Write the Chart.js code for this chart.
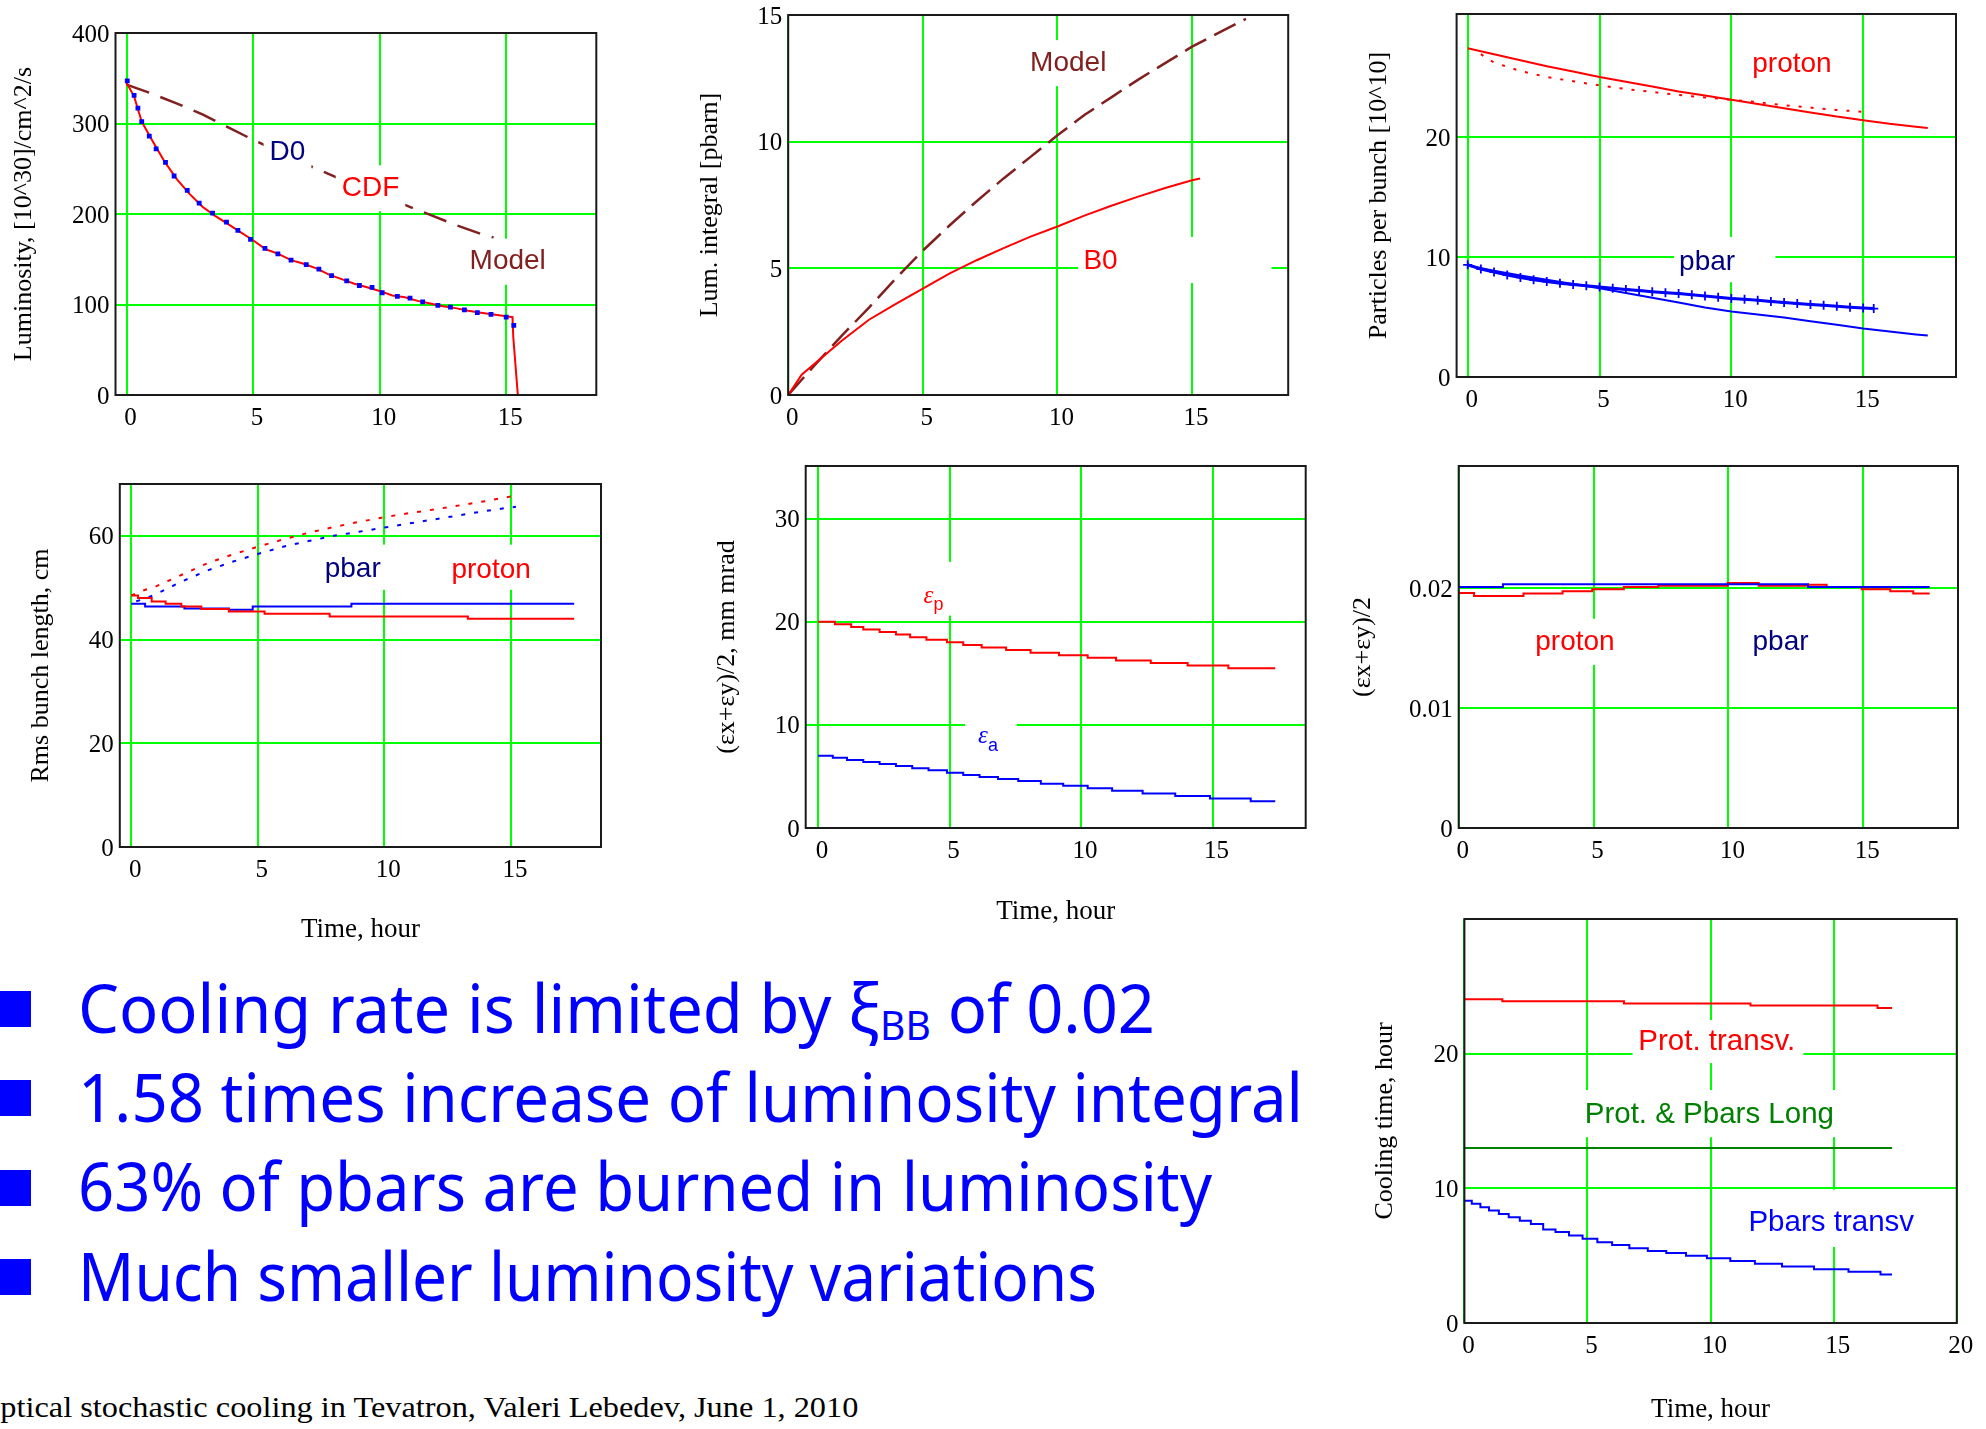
<!DOCTYPE html>
<html>
<head>
<meta charset="utf-8">
<script src="https://cdn.jsdelivr.net/npm/chart.js"></script>
<style>
html,body{margin:0;padding:0;background:#fff;}
body{width:1986px;height:1429px;position:relative;overflow:hidden;}
canvas{position:absolute;}
.bul{position:absolute;left:0;width:31px;height:36px;background:#0000ff;}
.txt{position:absolute;left:78px;top:0;white-space:nowrap;color:#0000ff;font-family:"Noto Sans","Open Sans",sans-serif;font-size:67px;line-height:1.2;transform-origin:0 0;}
.txt sub{font-size:0.6em;vertical-align:-0.18em;line-height:0;}
#foot{position:absolute;left:0;top:0;white-space:nowrap;color:#000;font-family:"Liberation Serif","Times New Roman",serif;font-size:29px;line-height:1.2;transform-origin:0 0;}
</style>
</head>
<body>
<div class="bul" style="top:991px"></div>
<div class="bul" style="top:1080px"></div>
<div class="bul" style="top:1170px"></div>
<div class="bul" style="top:1259px"></div>
<div class="txt" id="t1">Cooling rate is limited by ξ<sub>BB</sub> of 0.02</div>
<div class="txt" id="t2">1.58 times increase of luminosity integral</div>
<div class="txt" id="t3">63% of pbars are burned in luminosity</div>
<div class="txt" id="t4">Much smaller luminosity variations</div>
<div id="foot"><span id="fo">O</span>ptical stochastic cooling in Tevatron, Valeri Lebedev, June 1, 2010</div>
<script>
// ================= DATA =================
// tick values
const timeTicks = [0, 5, 10, 15];
const timeTicks20 = [0, 5, 10, 15, 20];
const lumTicks = [0, 100, 200, 300, 400];
const intTicks = [0, 5, 10, 15];
const nTicks = [0, 10, 20];
const blTicks = [0, 20, 40, 60];
const emitTicks = [0, 10, 20, 30];
const xiTicks = [0, 0.01, 0.02];
const xiTickLabels = ['0', '0.01', '0.02'];
const coolTicks = [0, 10, 20];

// Panel 1: luminosity [10^30]/cm^2/s vs time (hour)
const lumD0Time = [0.03,0.3,0.45,0.6,0.9,1.17,1.54,1.88,2.4,2.87,3.4,3.95,4.4,4.9,5.47,5.98,6.5,7.1,7.6,8.1,8.7,9.2,9.7,10.1,10.7,11.2,11.7,12.3,12.8,13.35,13.86,14.4,15.0,15.3];
const lumD0 = [347,331,317,302,286,272,257,242,226,212,201,191,182,172,162,156,149,144,139,132,126,121,119,113,109,107,103,99,97,94,91,89,86,77];
const lumCdfTime = [0,0.3,0.6,1.0,1.5,2.0,2.5,3.0,3.5,4.0,4.5,5.0,5.5,6.0,6.5,7.0,7.5,8.0,8.5,9.0,9.5,10.0,10.5,11.0,11.5,12.0,12.5,13.0,13.5,14.0,14.5,15.0,15.25,15.28,15.46];
const lumCdf = [345,330,302,282,258,238,222,208,198,189,180,171,161,156,149,145,140,133,128,123,119,115,110,108,104,101,98,96,93,91,89,87,86,64,0];
const lumModelTime = [0,1,2,3,4,5,6,7,8,9,10,11,12,13,14,14.5];
const lumModel = [343,333,322,310,296,282,269,256,244,232,221,210,199,188,178,174];

// Panel 2: luminosity integral [pbarn]
const intModelTime = [0,1,2,3,4,5,6,7,8,9,10,11,12,13,14,15,16,17];
const intModel = [0,1.2,2.35,3.45,4.6,5.7,6.7,7.65,8.55,9.4,10.25,11.05,11.75,12.45,13.1,13.75,14.3,14.85];
const intB0Time = [0,0.5,1,2,3,4,5,6,7,8,9,10,11,12,13,14,15,15.3];
const intB0 = [0,0.8,1.25,2.15,2.97,3.6,4.2,4.8,5.32,5.8,6.25,6.65,7.08,7.47,7.83,8.17,8.48,8.55];

// Panel 3: particles per bunch [10^10]
const nProtonTime = [0,1,2,3,4,5,6,7,8,9,10,11,12,13,14,15,16,17,17.45];
const nProton = [27.4,26.9,26.4,25.9,25.45,25.0,24.6,24.2,23.8,23.45,23.1,22.75,22.4,22.05,21.7,21.4,21.1,20.85,20.75];
const nProtonMeasTime = [0.5,1,2,3,4,5,6,7,8,9,10,11,12,13,14,15];
const nProtonMeas = [26.9,26.2,25.5,25.0,24.65,24.3,24.0,23.75,23.5,23.3,23.1,22.9,22.65,22.45,22.25,22.1];
const nPbarMeasTime = [0,0.5,1,1.5,2,2.5,3,3.5,4,4.5,5,5.5,6,6.5,7,7.5,8,8.5,9,9.5,10,10.5,11,11.5,12,12.5,13,13.5,14,14.5,15,15.4];
const nPbarMeas = [9.35,9.0,8.75,8.5,8.3,8.1,7.95,7.82,7.7,7.6,7.5,7.4,7.3,7.2,7.1,7.02,6.95,6.85,6.75,6.65,6.55,6.48,6.4,6.3,6.2,6.12,6.05,5.98,5.9,5.82,5.75,5.7];
const nPbarTime = [0,1,2,3,4,5,6,7,8,9,10,11,12,13,14,15,16,17,17.45];
const nPbar = [9.3,8.85,8.45,8.1,7.75,7.4,7.0,6.6,6.2,5.8,5.45,5.2,4.95,4.65,4.35,4.05,3.8,3.55,3.45];

// Panel 4: rms bunch length, cm
const blProtonTime = [0,0.27,0.81,1.36,1.98,2.77,3.86,5.27,7.84,13.3,17.5];
const blProton = [48.5,48.0,47.35,46.9,46.4,45.9,45.4,45.0,44.46,44.0,44.0];
const blPbarTime = [0,0.55,2.1,3.86,4.8,8.7,17.5];
const blPbar = [46.9,46.4,46.0,45.75,46.4,46.9,46.9];
const blProtonDotTime = [0,0.5,1,2,3,4,5,6,7,8,9,10,11,12,13,14,15,15.2];
const blProtonDot = [48.5,49.5,50.3,52.5,54.7,56.4,57.9,59.3,60.6,61.7,62.7,63.6,64.4,65.1,65.9,66.7,67.6,67.9];
const blPbarDotTime = [0.2,0.5,1,2,3,4,5,6,7,8,9,10,11,12,13,14,15,15.2];
const blPbarDot = [47.4,47.8,48.8,51.2,53.3,55.0,56.5,57.9,59.0,60.0,60.8,61.6,62.4,63.2,64.0,64.8,65.5,65.6];

// Panel 5: (ex+ey)/2, mm mrad
const emitPTime = [0,0.64,1.26,1.72,2.34,2.96,3.5,4.12,4.9,5.52,6.22,7.15,8.08,9.16,10.25,11.33,12.65,14.05,15.6,17.38];
const emitP = [20.0,19.75,19.5,19.25,19.0,18.75,18.5,18.25,18.0,17.75,17.5,17.25,17.0,16.75,16.5,16.25,16.0,15.75,15.5,15.5];
const emitATime = [0,0.56,1.1,1.72,2.34,2.96,3.58,4.2,4.9,5.52,6.14,6.84,7.61,8.47,9.32,10.25,11.18,12.34,13.58,14.9,16.45,17.38];
const emitA = [7.0,6.8,6.6,6.4,6.2,6.0,5.8,5.6,5.35,5.15,4.95,4.75,4.55,4.3,4.1,3.85,3.6,3.35,3.1,2.85,2.6,2.6];

// Panel 6: beam-beam parameter
const xiProtonTime = [0,0.57,2.4,3.85,4.95,6.12,7.4,9.97,11.12,12.95,13.64,14.94,16.0,16.85,17.46];
const xiProton = [0.0196,0.01936,0.01956,0.01975,0.01992,0.0201,0.0202,0.02044,0.0202,0.0203,0.0201,0.01992,0.01975,0.01956,0.01956];
const xiPbarTime = [0,1.64,12.95,17.46];
const xiPbar = [0.0201,0.02033,0.0201,0.0201];

// Panel 7: cooling time, hour
const coolProtTime = [0,1.54,6.48,11.62,16.78,17.37];
const coolProt = [24.05,23.9,23.72,23.57,23.4,23.4];
const coolLongTime = [0,17.37];
const coolLong = [13.0,13.0];
const coolPbarTime = [0,0.3,0.65,1.0,1.4,1.8,2.25,2.7,3.2,3.7,4.25,4.8,5.4,6.0,6.7,7.45,8.2,9.0,9.85,10.8,11.8,12.9,14.2,15.6,16.9,17.37];
const coolPbar = [9.07,8.85,8.6,8.35,8.1,7.85,7.6,7.35,6.95,6.75,6.5,6.25,6.0,5.8,5.55,5.35,5.2,5.0,4.8,4.6,4.4,4.2,4.0,3.8,3.6,3.6];

// ================= STYLE =================
const SERIF = '"Liberation Serif", "Times New Roman", serif';
const SANS = '"Liberation Sans", Arial, sans-serif';
const GRID = '#00ff00';
const FRAME = '#1a1a1a';
const RED = '#ff0000', BLUE = '#0000ff', NAVY = '#000080', DKRED = '#822020', DKGREEN = '#008000';

function pts(t, v) { return t.map((x, i) => ({x: x, y: v[i]})); }
function series(t, v, color, extra) {
  return Object.assign({data: pts(t, v), borderColor: color, backgroundColor: color, borderWidth: 2,
    pointRadius: 0, fill: false, tension: 0, borderCapStyle: 'butt'}, extra || {});
}

function drawLabel(ctx, xs, ys, lb, size) {
  const cx = xs.getPixelForValue(lb.x), cy = ys.getPixelForValue(lb.y);
  ctx.save();
  const mainFont = lb.sub ? 'italic 25px ' + SERIF : size + 'px ' + SANS;
  const subFont = '18px ' + SANS;
  ctx.font = mainFont;
  const w1 = ctx.measureText(lb.text).width;
  let w2 = 0;
  if (lb.sub) { ctx.font = subFont; w2 = ctx.measureText(lb.sub).width; }
  const tw = w1 + w2;
  let bx0, bx1, by0, by1;
  if (lb.box) {
    bx0 = xs.getPixelForValue(lb.box[0]); bx1 = xs.getPixelForValue(lb.box[1]);
    by0 = ys.getPixelForValue(lb.box[2]); by1 = ys.getPixelForValue(lb.box[3]);
  } else {
    bx0 = cx - tw / 2 - 6; bx1 = cx + tw / 2 + 6; by0 = cy - 23; by1 = cy + 23;
  }
  ctx.fillStyle = '#fff';
  ctx.fillRect(Math.min(bx0, bx1), Math.min(by0, by1), Math.abs(bx1 - bx0), Math.abs(by1 - by0));
  ctx.translate(cx, cy);
  ctx.fillStyle = lb.color; ctx.textBaseline = 'middle'; ctx.textAlign = 'left';
  ctx.font = mainFont; ctx.fillText(lb.text, -tw / 2, 0);
  if (lb.sub) { ctx.font = subFont; ctx.fillText(lb.sub, -tw / 2 + w1, 9); }
  ctx.restore();
}

function makeChart(cfg) {
  const x0 = cfg.rect[0], y0 = cfg.rect[1], x1 = cfg.rect[2], y1 = cfg.rect[3];
  const L = x0 - cfg.yw, T = y0 - cfg.padTop;
  const W = Math.round((x1 - x0) + cfg.yw + cfg.padRight), H = Math.round((y1 - y0) + cfg.padTop + cfg.xh);
  const cv = document.createElement('canvas');
  cv.width = W; cv.height = H;
  cv.style.left = L + 'px'; cv.style.top = T + 'px';
  cv.style.width = W + 'px'; cv.style.height = H + 'px';
  document.body.appendChild(cv);
  const labels = cfg.labels || [];
  const lsize = cfg.labelSize || 28;
  const overlay = {
    id: 'overlay',
    afterDatasetsDraw(chart) {
      const ctx = chart.ctx, a = chart.chartArea;
      labels.forEach(lb => drawLabel(ctx, chart.scales.x, chart.scales.y, lb, lsize));
      ctx.save();
      ctx.strokeStyle = FRAME; ctx.lineWidth = 2;
      ctx.strokeRect(a.left, a.top, a.right - a.left, a.bottom - a.top);
      ctx.restore();
    }
  };
  return new Chart(cv, {
    type: 'line',
    data: {datasets: cfg.datasets},
    options: {
      responsive: false, animation: false, devicePixelRatio: 1,
      layout: {padding: {top: cfg.padTop, right: W - cfg.yw - (x1 - x0), left: 0, bottom: 0}, autoPadding: false},
      plugins: {legend: {display: false}, tooltip: {enabled: false}},
      scales: {
        x: {
          type: 'linear', min: cfg.xMin, max: cfg.xMax,
          afterBuildTicks: s => { s.ticks = cfg.xTicks.map(v => ({value: v})); },
          afterFit: s => { s.height = cfg.xh; s.paddingLeft = 0; s.paddingRight = 0; },
          grid: {color: GRID, lineWidth: 2, drawTicks: false},
          border: {display: false},
          ticks: {color: '#000', font: {family: SERIF, size: 25}, padding: 8, labelOffset: 4,
                  autoSkip: false, maxRotation: 0, minRotation: 0, callback: v => String(v)},
          title: cfg.xTitle ? {display: true, text: cfg.xTitle, color: '#000', font: {family: SERIF, size: 27},
                  padding: {top: 0, bottom: cfg.xTitlePad}} : {display: false}
        },
        y: {
          type: 'linear', min: cfg.yMin, max: cfg.yMax,
          afterBuildTicks: s => { s.ticks = cfg.yTicks.map(v => ({value: v})); },
          afterFit: s => { s.width = cfg.yw; s.paddingTop = 0; s.paddingBottom = 0; },
          grid: {color: GRID, lineWidth: 2, drawTicks: false},
          border: {display: false},
          ticks: {color: '#000', font: {family: SERIF, size: 25}, padding: 6, labelOffset: 2,
                  autoSkip: false, callback: (v, i) => cfg.yTickLabels ? cfg.yTickLabels[i] : String(v)},
          title: {display: true, text: cfg.yTitle, color: '#000', font: {family: SERIF, size: 26},
                  padding: {top: cfg.yTitlePad, bottom: 0}}
        }
      }
    },
    plugins: [overlay]
  });
}

// ================= CHARTS =================
// Panel 1
makeChart({
  rect: [115.5, 33, 596.3, 395], yw: 115.5, xh: 45, padTop: 15, padRight: 12,
  xMin: -0.435, xMax: 18.56, yMin: 0, yMax: 400, xTicks: timeTicks, yTicks: lumTicks,
  yTitle: 'Luminosity, [10^30]/cm^2/s', yTitlePad: 8.1,
  datasets: [
    series(lumD0Time, lumD0, BLUE, {showLine: false, pointRadius: 3.4, pointStyle: 'rect', pointBorderWidth: 0, pointBackgroundColor: BLUE}),
    series(lumCdfTime, lumCdf, RED),
    series(lumModelTime, lumModel, DKRED, {borderDash: [24, 12], borderWidth: 2.5})
  ],
  labels: [
    {text: 'D0', x: 6.36, y: 267.7, color: NAVY},
    {text: 'CDF', x: 9.64, y: 228.4, color: RED},
    {text: 'Model', x: 15.06, y: 147.3, color: DKRED}
  ]
});

// Panel 2
makeChart({
  rect: [788.2, 15, 1288.2, 395], yw: 108.2, xh: 45, padTop: 12, padRight: 12,
  xMin: 0, xMax: 18.57, yMin: 0, yMax: 15, xTicks: timeTicks, yTicks: intTicks,
  yTitle: 'Lum. integral [pbarn]', yTitlePad: 15,
  datasets: [
    series(intB0Time, intB0, RED),
    series(intModelTime, intModel, DKRED, {borderDash: [24, 9], borderWidth: 2.5})
  ],
  labels: [
    {text: 'Model', x: 10.4, y: 13.1, color: DKRED},
    {text: 'B0', x: 11.6, y: 5.26, color: RED, box: [10.77, 17.95, 6.24, 4.42]}
  ]
});

// Panel 3
makeChart({
  rect: [1456.6, 14, 1956, 377], yw: 111.6, xh: 45, padTop: 12, padRight: 12,
  xMin: -0.42, xMax: 18.52, yMin: 0, yMax: 30.25, xTicks: timeTicks, yTicks: nTicks,
  yTitle: 'Particles per bunch [10^10]', yTitlePad: 18.4,
  datasets: [
    series(nProtonTime, nProton, RED),
    series(nProtonMeasTime, nProtonMeas, RED, {borderDash: [3, 9]}),
    series(nPbarMeasTime, nPbarMeas, BLUE, {borderWidth: 3, pointRadius: 4.5, pointStyle: 'cross', pointBorderWidth: 1.8, pointBorderColor: BLUE}),
    series(nPbarTime, nPbar, BLUE)
  ],
  labels: [
    {text: 'proton', x: 12.3, y: 26.1, color: RED},
    {text: 'pbar', x: 9.08, y: 9.6, color: NAVY, box: [7.83, 11.67, 11.67, 7.9]}
  ]
});

// Panel 4
makeChart({
  rect: [119.8, 484, 601, 847], yw: 119.8, xh: 100, padTop: 15, padRight: 12,
  xMin: -0.45, xMax: 18.56, yMin: 0, yMax: 70, xTicks: timeTicks, yTicks: blTicks,
  yTitle: 'Rms bunch length, cm', yTitlePad: 25.9, xTitle: 'Time, hour', xTitlePad: 0.8,
  datasets: [
    series(blProtonTime, blProton, RED, {stepped: true}),
    series(blPbarTime, blPbar, BLUE, {stepped: true}),
    series(blProtonDotTime, blProtonDot, RED, {borderDash: [4, 9]}),
    series(blPbarDotTime, blPbarDot, BLUE, {borderDash: [4, 9]})
  ],
  labels: [
    {text: 'pbar', x: 8.75, y: 53.5, color: NAVY, box: [7.36, 10.27, 58.3, 49.6]},
    {text: 'proton', x: 14.22, y: 53.3, color: RED, box: [12.66, 15.8, 58.3, 49.6]}
  ]
});

// Panel 5
makeChart({
  rect: [805.7, 466, 1305.7, 828], yw: 115.7, xh: 102, padTop: 15, padRight: 12,
  xMin: -0.47, xMax: 18.54, yMin: 0, yMax: 35.1, xTicks: timeTicks, yTicks: emitTicks,
  yTitle: '(εx+εy)/2, mm mrad', yTitlePad: 21.3, xTitle: 'Time, hour', xTitlePad: 1.8,
  datasets: [
    series(emitPTime, emitP, RED, {stepped: true}),
    series(emitATime, emitA, BLUE, {stepped: true})
  ],
  labels: [
    {text: 'ε', sub: 'p', x: 4.39, y: 22.46, color: RED, box: [3.49, 5.26, 25.8, 20.6]},
    {text: 'ε', sub: 'a', x: 6.46, y: 8.86, color: BLUE, box: [5.59, 7.55, 11.07, 6.6]}
  ]
});

// Panel 6
makeChart({
  rect: [1458.7, 466, 1958, 828], yw: 118.7, xh: 45, padTop: 15, padRight: 12,
  xMin: 0, xMax: 18.51, yMin: 0, yMax: 0.0302, xTicks: timeTicks, yTicks: xiTicks, yTickLabels: xiTickLabels,
  yTitle: '(εx+εy)/2', yTitlePad: 7.1,
  datasets: [
    series(xiPbarTime, xiPbar, BLUE, {stepped: true}),
    series(xiProtonTime, xiProton, RED, {stepped: true})
  ],
  labels: [
    {text: 'proton', x: 4.31, y: 0.01553, color: RED},
    {text: 'pbar', x: 11.93, y: 0.01553, color: NAVY}
  ]
});

// Panel 7
makeChart({
  rect: [1464.4, 919, 1956.8, 1323], yw: 114.4, xh: 104, padTop: 15, padRight: 26,
  xMin: 0, xMax: 20, yMin: 0, yMax: 30, xTicks: timeTicks20, yTicks: coolTicks,
  yTitle: 'Cooling time, hour', yTitlePad: 19.7, xTitle: 'Time, hour', xTitlePad: 0.8,
  labelSize: 29.5,
  datasets: [
    series(coolProtTime, coolProt, RED, {stepped: true}),
    series(coolLongTime, coolLong, DKGREEN),
    series(coolPbarTime, coolPbar, BLUE, {stepped: true})
  ],
  labels: [
    {text: 'Prot. transv.', x: 10.25, y: 20.9, color: RED, box: [6.83, 13.77, 22.5, 19.3]},
    {text: 'Prot. & Pbars Long', x: 9.95, y: 15.46, color: DKGREEN, box: [4.5, 15.45, 17.3, 13.8]},
    {text: 'Pbars transv', x: 14.9, y: 7.41, color: BLUE, box: [12.0, 17.8, 9.9, 5.65]}
  ]
});

// ================= SLIDE TEXT =================
function placeText(el, left, baseline, right, hideFirst) {
  const m = document.createElement('span');
  m.style.cssText = 'display:inline-block;width:0;height:0;vertical-align:baseline;';
  el.appendChild(m);
  el.style.left = '0px'; el.style.top = '0px'; el.style.transform = 'none';
  const r = el.getBoundingClientRect(), mr = m.getBoundingClientRect();
  let skip = 0;
  if (hideFirst) skip = hideFirst.getBoundingClientRect().width;
  const s = (right - left) / (r.width - skip);
  el.style.transform = 'scaleX(' + s + ')';
  el.style.left = (left - skip * s) + 'px';
  el.style.top = (baseline - (mr.top - r.top)) + 'px';
}
placeText(document.getElementById('t1'), 78, 1033, 1155);
placeText(document.getElementById('t2'), 78, 1122, 1303);
placeText(document.getElementById('t3'), 78, 1211, 1212);
placeText(document.getElementById('t4'), 78, 1301, 1097);
placeText(document.getElementById('foot'), 0, 1417, 858, document.getElementById('fo'));
</script>
</body>
</html>
